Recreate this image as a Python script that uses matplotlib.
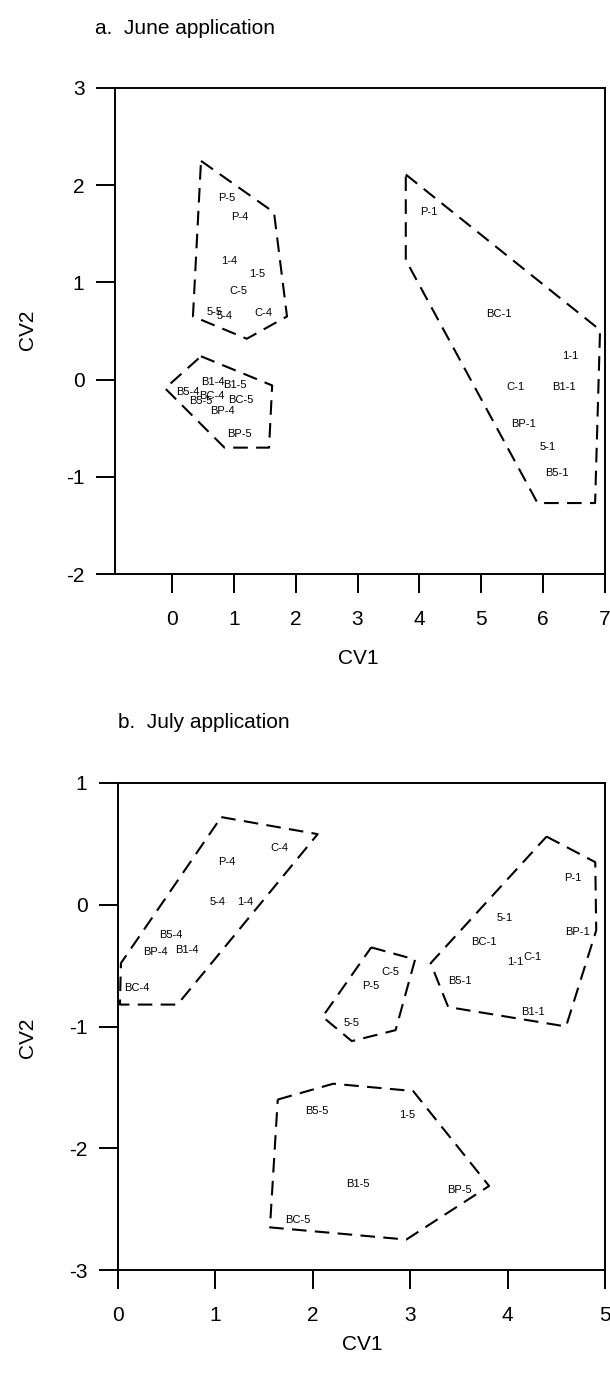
import matplotlib
matplotlib.use("Agg")
import matplotlib.pyplot as plt

plt.rcParams['font.family'] = ['Liberation Sans', 'DejaVu Sans']
plt.rcParams['axes.unicode_minus'] = False

# ---- June application (panel a) ----
june_labels = ["P-5", "P-4", "1-4", "1-5", "C-5", "5-5", "5-4", "C-4",
               "B1-4", "B1-5", "B5-4", "BC-4", "B5-5", "BC-5", "BP-4", "BP-5",
               "P-1", "BC-1", "1-1", "C-1", "B1-1", "BP-1", "5-1", "B5-1"]
june_x = [0.88, 1.09, 0.93, 1.37, 1.08, 0.69, 0.85, 1.48,
          0.67, 1.01, 0.26, 0.64, 0.47, 1.11, 0.82, 1.09,
          4.16, 5.29, 6.43, 5.55, 6.33, 5.69, 6.08, 6.23]
june_y = [1.87, 1.67, 1.22, 1.09, 0.91, 0.70, 0.65, 0.69,
          -0.02, -0.06, -0.13, -0.17, -0.22, -0.21, -0.32, -0.56,
          1.72, 0.67, 0.24, -0.08, -0.08, -0.46, -0.69, -0.96]

june_hull1_x = [0.47, 1.65, 1.86, 1.21, 0.34, 0.47]
june_hull1_y = [2.25, 1.72, 0.65, 0.42, 0.65, 2.25]
june_hull2_x = [0.47, 1.62, 1.57, 0.85, -0.11, 0.47]
june_hull2_y = [0.24, -0.06, -0.70, -0.70, -0.09, 0.24]
june_hull3_x = [3.78, 6.92, 6.84, 5.91, 3.78, 3.78]
june_hull3_y = [2.11, 0.51, -1.27, -1.27, 1.23, 2.11]

# ---- July application (panel b) ----
july_labels = ["C-4", "P-4", "5-4", "1-4", "B5-4", "BP-4", "B1-4", "BC-4",
               "P-1", "5-1", "BP-1", "BC-1", "1-1", "C-1", "B5-1", "B1-1",
               "C-5", "P-5", "5-5",
               "B5-5", "1-5", "B1-5", "BP-5", "BC-5"]
july_x = [1.66, 1.12, 1.02, 1.31, 0.54, 0.38, 0.71, 0.19,
          4.67, 3.97, 4.72, 3.76, 4.08, 4.25, 3.51, 4.26,
          2.80, 2.60, 2.40,
          2.04, 2.97, 2.46, 3.51, 1.85]
july_y = [0.47, 0.35, 0.02, 0.02, -0.25, -0.39, -0.37, -0.68,
          0.22, -0.11, -0.22, -0.31, -0.47, -0.43, -0.63, -0.88,
          -0.55, -0.67, -0.97,
          -1.69, -1.73, -2.29, -2.34, -2.59]

july_hull1_x = [1.06, 2.05, 0.61, 0.02, 0.03, 1.06]
july_hull1_y = [0.72, 0.58, -0.82, -0.82, -0.48, 0.72]
july_hull2_x = [4.40, 4.90, 4.91, 4.60, 3.39, 3.21, 4.40]
july_hull2_y = [0.56, 0.35, -0.21, -1.00, -0.84, -0.48, 0.56]
july_hull3_x = [2.60, 3.05, 2.85, 2.40, 2.10, 2.60]
july_hull3_y = [-0.35, -0.45, -1.03, -1.12, -0.92, -0.35]
july_hull4_x = [1.64, 2.21, 3.03, 3.81, 2.96, 1.56, 1.64]
july_hull4_y = [-1.60, -1.47, -1.53, -2.31, -2.75, -2.65, -1.60]

W, H = 610, 1376
fig = plt.figure(figsize=(W / 100, H / 100), dpi=100)


def style_axes(ax):
    for s in ax.spines.values():
        s.set_linewidth(1.4)
    ax.tick_params(direction='out', length=14, width=1.4, labelsize=15, pad=8)


# panel a
axa = fig.add_axes([115 / W, 1 - 574 / H, 490 / W, (574 - 88) / H])
axa.set_xlim(-0.92, 7.0)
axa.set_ylim(-2, 3)
axa.set_xticks(range(0, 8))
axa.set_yticks(range(-2, 4))
style_axes(axa)
axa.tick_params(axis='x', pad=12)
for hx, hy in [(june_hull1_x, june_hull1_y), (june_hull2_x, june_hull2_y),
               (june_hull3_x, june_hull3_y)]:
    axa.plot(hx, hy, color='black', lw=1.5, linestyle=(0, (7, 4)))
for lab, x, y in zip(june_labels, june_x, june_y):
    axa.text(x, y, lab, fontsize=8, ha='center', va='center')

# panel b
axb = fig.add_axes([118 / W, 1 - 1270 / H, 487 / W, (1270 - 783) / H])
axb.set_xlim(0, 5)
axb.set_ylim(-3, 1)
axb.set_xticks(range(0, 6))
axb.set_yticks(range(-3, 2))
style_axes(axb)
axb.tick_params(axis='x', pad=12)
for hx, hy in [(july_hull1_x, july_hull1_y), (july_hull2_x, july_hull2_y),
               (july_hull3_x, july_hull3_y), (july_hull4_x, july_hull4_y)]:
    axb.plot(hx, hy, color='black', lw=1.5, linestyle=(0, (7, 4)))
for lab, x, y in zip(july_labels, july_x, july_y):
    axb.text(x, y, lab, fontsize=8, ha='center', va='center')

# titles and axis labels
fig.text(95 / W, 1 - 28 / H, "a.  June application", fontsize=15, ha='left', va='center')
fig.text(118 / W, 1 - 722 / H, "b.  July application", fontsize=15, ha='left', va='center')
fig.text(27 / W, 1 - 330 / H, "CV2", fontsize=15, rotation=90, ha='center', va='center')
fig.text(27 / W, 1 - 1038 / H, "CV2", fontsize=15, rotation=90, ha='center', va='center')
fig.text(358 / W, 1 - 658 / H, "CV1", fontsize=15, ha='center', va='center')
fig.text(362 / W, 1 - 1345 / H, "CV1", fontsize=15, ha='center', va='center')

fig.savefig("out.png", dpi=100)
